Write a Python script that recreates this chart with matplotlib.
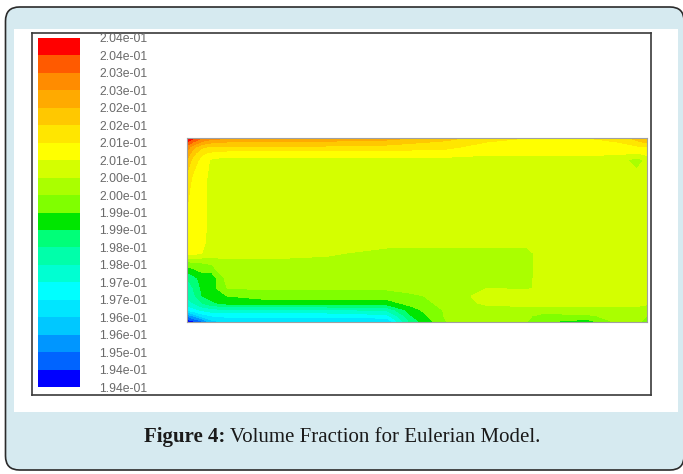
import numpy as np
import matplotlib
matplotlib.use('Agg')
import matplotlib.pyplot as plt
from matplotlib.patches import FancyBboxPatch, Rectangle
from matplotlib.transforms import IdentityTransform

# ---------------- data ----------------
# grid positions of the sampled field (domain units, y measured from top)
x_pos = [0, 6, 15, 25, 40, 80, 140, 200, 225, 260, 300, 340, 355, 400, 430, 450, 460]
y_pos = [0, 4, 9, 15, 22, 40, 80, 105, 115, 125, 140, 150, 158, 165, 172, 178, 184]

# volume fraction, one row per y position (top to bottom)
volume_fraction = [
    [0.2039, 0.2036, 0.2030, 0.2027, 0.2026, 0.2025, 0.2024, 0.2022, 0.2020, 0.2017, 0.2012, 0.2010, 0.2010, 0.2010, 0.2012, 0.2017, 0.2021],
    [0.2035, 0.2030, 0.2024, 0.2021, 0.2020, 0.2020, 0.2019, 0.2018, 0.2016, 0.2014, 0.2010, 0.2009, 0.2009, 0.2009, 0.2010, 0.2014, 0.2016],
    [0.2028, 0.2022, 0.2016, 0.2014, 0.2014, 0.2014, 0.2014, 0.2013, 0.2012, 0.2011, 0.2008, 0.2007, 0.2007, 0.2007, 0.2008, 0.2009, 0.2010],
    [0.2024, 0.2017, 0.2011, 0.2009, 0.2008, 0.2008, 0.2008, 0.2008, 0.2008, 0.2008, 0.2006, 0.2006, 0.2006, 0.2006, 0.2006, 0.2005, 0.2007],
    [0.2020, 0.2013, 0.2008, 0.2004, 0.2003, 0.2003, 0.2003, 0.2003, 0.2003, 0.2003, 0.2003, 0.2003, 0.2003, 0.2003, 0.2002, 0.1998, 0.2001],
    [0.2013, 0.2009, 0.2007, 0.2003, 0.2003, 0.2003, 0.2003, 0.2003, 0.2003, 0.2003, 0.2003, 0.2003, 0.2003, 0.2003, 0.2003, 0.2002, 0.2003],
    [0.2009, 0.2008, 0.2007, 0.2003, 0.2003, 0.2003, 0.2003, 0.2003, 0.2003, 0.2003, 0.2003, 0.2003, 0.2003, 0.2003, 0.2003, 0.2003, 0.2003],
    [0.2009, 0.2008, 0.2006, 0.2003, 0.2003, 0.2003, 0.2003, 0.2002, 0.2002, 0.2002, 0.2002, 0.2002, 0.2003, 0.2003, 0.2003, 0.2003, 0.2003],
    [0.2008, 0.2007, 0.2005, 0.2003, 0.2003, 0.2003, 0.2001, 0.1998, 0.1998, 0.1998, 0.1998, 0.1998, 0.2003, 0.2003, 0.2003, 0.2003, 0.2003],
    [0.1993, 0.1994, 0.1995, 0.1996, 0.1998, 0.1998, 0.1998, 0.1998, 0.1998, 0.1998, 0.1998, 0.1998, 0.2003, 0.2003, 0.2003, 0.2003, 0.2003],
    [0.1980, 0.1983, 0.1987, 0.1987, 0.1997, 0.1998, 0.1998, 0.1998, 0.1998, 0.1998, 0.1998, 0.1998, 0.2003, 0.2003, 0.2003, 0.2003, 0.2003],
    [0.1978, 0.1980, 0.1986, 0.1988, 0.1995, 0.1996, 0.1996, 0.1996, 0.1997, 0.1998, 0.2000, 0.1999, 0.2002, 0.2003, 0.2003, 0.2003, 0.2003],
    [0.1976, 0.1978, 0.1985, 0.1987, 0.1990, 0.1992, 0.1992, 0.1992, 0.1994, 0.1997, 0.2002, 0.2003, 0.2003, 0.2003, 0.2003, 0.2003, 0.2003],
    [0.1972, 0.1975, 0.1980, 0.1984, 0.1987, 0.1988, 0.1988, 0.1988, 0.1992, 0.1997, 0.2001, 0.2002, 0.2002, 0.2002, 0.2002, 0.2002, 0.2001],
    [0.1966, 0.1968, 0.1971, 0.1973, 0.1974, 0.1974, 0.1974, 0.1976, 0.1988, 0.1996, 0.1998, 0.1998, 0.1998, 0.1998, 0.1998, 0.1998, 0.1997],
    [0.1950, 0.1955, 0.1962, 0.1965, 0.1966, 0.1966, 0.1966, 0.1968, 0.1985, 0.1996, 0.1997, 0.1996, 0.1993, 0.1994, 0.1997, 0.1997, 0.1995],
    [0.1941, 0.1943, 0.1948, 0.1958, 0.1961, 0.1962, 0.1960, 0.1960, 0.1982, 0.1995, 0.1996, 0.1995, 0.1990, 0.1987, 0.1996, 0.1996, 0.1993],
]

vmin, vmax = 0.1940, 0.2040

# legend band colours, bottom (low) to top (high)
band_colors = ['#0000ff', '#0064ff', '#0096ff', '#00c8ff', '#00e6ff',
               '#00ffff', '#00ffd2', '#00ffaa', '#00ff78', '#00e600',
               '#80ff00', '#aaff00', '#d4ff00', '#ffff00', '#ffe600',
               '#ffc800', '#ffaa00', '#ff8c00', '#ff5a00', '#ff0000']

# legend labels, bottom to top
tick_labels = ['1.94e-01', '1.94e-01', '1.95e-01', '1.96e-01', '1.96e-01',
               '1.97e-01', '1.97e-01', '1.98e-01', '1.98e-01', '1.99e-01',
               '1.99e-01', '2.00e-01', '2.00e-01', '2.01e-01', '2.01e-01',
               '2.02e-01', '2.02e-01', '2.03e-01', '2.03e-01', '2.04e-01',
               '2.04e-01']

caption_bold = 'Figure 4:'
caption_rest = ' Volume Fraction for Eulerian Model.'

# ---------------- figure ----------------
W, H = 683, 474
fig = plt.figure(figsize=(W / 100, H / 100), dpi=100)
fig.patch.set_facecolor('white')


def px_axes(x0, ytop, x1, ybot):
    return fig.add_axes([x0 / W, 1 - ybot / H, (x1 - x0) / W, (ybot - ytop) / H])


ident = IdentityTransform()
bg = FancyBboxPatch((5.5, H - 470), 684 - 5.5, 470 - 7,
                    boxstyle='round,pad=0,rounding_size=14',
                    transform=ident, facecolor='#d6eaf0',
                    edgecolor='#2b2b2b', linewidth=1.2, zorder=-3)
fig.add_artist(bg)
panel = Rectangle((14, H - 412), 678 - 14, 412 - 29, transform=ident,
                  facecolor='white', edgecolor='none', zorder=-2)
fig.add_artist(panel)

# inner black frame
frame = px_axes(32, 33, 651, 395)
frame.set_xticks([])
frame.set_yticks([])
frame.patch.set_facecolor('white')
for s in frame.spines.values():
    s.set_color('#3a3a3a')
    s.set_linewidth(1.2)

# contour field
ax = px_axes(187, 138, 647, 322)
levels = np.linspace(vmin, vmax, len(tick_labels))
cs = ax.contourf(x_pos, y_pos, np.array(volume_fraction), levels=levels,
                 colors=band_colors)
ax.set_xlim(0, 460)
ax.set_ylim(184, 0)
ax.set_xticks([])
ax.set_yticks([])
for s in ax.spines.values():
    s.set_color('#a0a0a0')
    s.set_linewidth(0.8)

# legend colour bar
cax = px_axes(38, 38, 80, 387)
cb = fig.colorbar(cs, cax=cax)
cb.outline.set_visible(False)
cb.set_ticks(levels, labels=tick_labels)
cax.tick_params(length=0, pad=14, labelsize=8.8, labelcolor='#6a6a6a')
for t in cax.get_yticklabels():
    t.set_fontfamily('Liberation Sans')
    t.set_clip_on(True)
    t.set_clip_box(frame.bbox)

# caption
r = fig.canvas.get_renderer()
t1 = fig.text(0, 0, caption_bold, fontsize=15, fontweight='bold',
              family='Liberation Serif', transform=ident, va='center',
              color='#1a1a1a')
t2 = fig.text(0, 0, caption_rest, fontsize=15, family='Liberation Serif',
              transform=ident, va='center', color='#1a1a1a')
w1 = t1.get_window_extent(r).width
w2 = t2.get_window_extent(r).width
x0 = 342 - (w1 + w2) / 2
t1.set_position((x0, H - 437))
t2.set_position((x0 + w1, H - 437))

fig.savefig('out.png', dpi=100, facecolor='white')
